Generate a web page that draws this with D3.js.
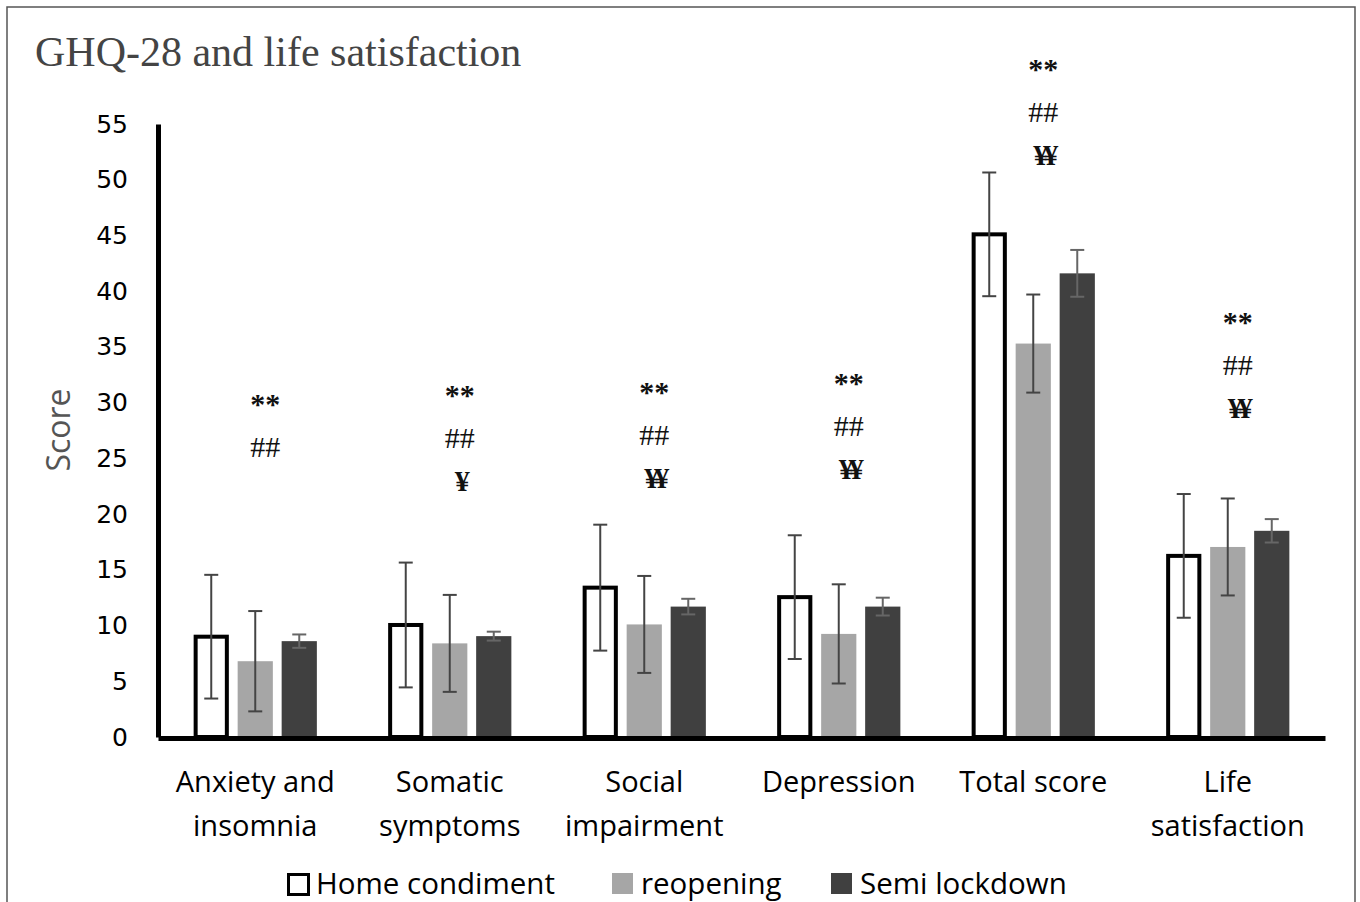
<!DOCTYPE html>
<html>
<head>
<meta charset="utf-8">
<script src="https://cdn.jsdelivr.net/npm/d3@7"></script>
<style>
  body { margin: 0; background: #fff; }
  svg { display: block; }
</style>
</head>
<body>
<div id="chart"></div>
<script>
// data
const categories = [['Anxiety and', 'insomnia'], ['Somatic', 'symptoms'], ['Social', 'impairment'],
    ['Depression'], ['Total score'], ['Life', 'satisfaction']];
const seriesNames = ['Home condiment', 'reopening', 'Semi lockdown'];
const homeMean = [9.0, 10.05, 13.4, 12.55, 45.1, 16.25];
const homeSd = [5.55, 5.6, 5.65, 5.55, 5.55, 5.55];
const reopenMean = [6.8, 8.4, 10.1, 9.25, 35.3, 17.05];
const reopenSd = [4.5, 4.35, 4.35, 4.45, 4.4, 4.35];
const semiMean = [8.6, 9.05, 11.7, 11.7, 41.6, 18.5];
const semiSd = [0.6, 0.4, 0.7, 0.8, 2.1, 1.05];
const sigMarks = [['**', '##'], ['**', '##', '¥'], ['**', '##', '¥¥'], ['**', '##', '¥¥'], ['**', '##', '¥¥'], ['**', '##', '¥¥']];
const sigLevel = [30.1, 30.9, 31.1, 31.9, 60.1, 37.4];
const yTicks = [0, 5, 10, 15, 20, 25, 30, 35, 40, 45, 50, 55];

const width = 1360, height = 902;
const svg = d3.select('#chart').append('svg')
    .attr('width', width)
    .attr('height', height);

svg.append('rect')
    .attr('x', 7).attr('y', 7)
    .attr('width', 1348).attr('height', 905)
    .style('fill', 'none')
    .style('stroke', '#555')
    .style('stroke-width', 1.5);

svg.append('text')
    .attr('x', 35).attr('y', 66)
    .style('font-family', '"Liberation Serif", serif')
    .style('font-size', '42px')
    .style('fill', '#444')
    .text('GHQ-28 and life satisfaction');

const y = d3.scaleLinear().domain([0, 55]).range([737, 124]);
const x0 = d3.scaleBand().domain(d3.range(categories.length))
    .range([158, 1325]).paddingInner(0.276).paddingOuter(0.138);
const x1 = d3.scaleBand().domain(seriesNames)
    .range([0, x0.bandwidth()]).padding(0.2);

const fills = d3.scaleOrdinal().domain(seriesNames).range(['#fff', '#a6a6a6', '#404040']);

const rows = categories.map((c, i) => ({
    i: i,
    vals: [
        { s: seriesNames[0], m: homeMean[i], sd: homeSd[i] },
        { s: seriesNames[1], m: reopenMean[i], sd: reopenSd[i] },
        { s: seriesNames[2], m: semiMean[i], sd: semiSd[i] }
    ]
}));

const groups = svg.append('g').selectAll('.group')
    .data(rows)
    .enter()
    .append('g')
    .classed('group', true)
    .attr('transform', d => `translate(${x0(d.i)},0)`);

groups.selectAll('.bar')
    .data(d => d.vals)
    .enter()
    .append('rect')
    .classed('bar', true)
    .attr('x', d => x1(d.s) + (d.s === seriesNames[0] ? 2 : 0))
    .attr('width', d => x1.bandwidth() - (d.s === seriesNames[0] ? 4 : 0))
    .attr('y', d => y(d.m))
    .attr('height', d => y(0) - y(d.m))
    .style('fill', d => fills(d.s))
    .style('stroke', d => d.s === seriesNames[0] ? '#000' : 'none')
    .style('stroke-width', 4);

const err = groups.selectAll('.err')
    .data(d => d.vals)
    .enter()
    .append('g')
    .classed('err', true)
    .attr('transform', d => `translate(${x1(d.s) + x1.bandwidth() / 2},0)`)
    .style('stroke', d => d.s === seriesNames[2] ? '#666' : '#444')
    .style('stroke-width', 2);
err.append('line')
    .attr('y1', d => y(d.m - d.sd)).attr('y2', d => y(d.m + d.sd));
err.append('line')
    .attr('x1', -7).attr('x2', 7)
    .attr('y1', d => y(d.m + d.sd)).attr('y2', d => y(d.m + d.sd));
err.append('line')
    .attr('x1', -7).attr('x2', 7)
    .attr('y1', d => y(d.m - d.sd)).attr('y2', d => y(d.m - d.sd));

// significance marks
groups.each(function (d) {
    const g = d3.select(this);
    const cx = x1(seriesNames[1]) + x1.bandwidth() / 2 + 10;
    sigMarks[d.i].forEach((m, k) => {
        g.append('text')
            .attr('x', cx)
            .attr('y', y(sigLevel[d.i]) + k * 43 + 12)
            .attr('text-anchor', 'middle')
            .style('font-family', '"Liberation Serif", serif')
            .style('font-weight', m === '##' ? 'normal' : 'bold')
            .style('font-size', m === '**' ? '30px' : '30px')
            .style('letter-spacing', m.indexOf('¥') >= 0 ? '-5px' : '0px')
            .style('fill', '#111')
            .text(m);
    });
});

// axes
const yAxis = svg.append('g')
    .attr('transform', 'translate(158,0)')
    .call(d3.axisLeft(y).tickValues(yTicks).tickSize(0).tickPadding(30).tickSizeOuter(0));
yAxis.select('.domain').style('stroke', '#000').style('stroke-width', 5);
yAxis.selectAll('text')
    .style('font-family', '"DejaVu Sans", sans-serif')
    .style('font-size', '25px')
    .style('fill', '#000');

const xAxis = svg.append('g')
    .attr('transform', 'translate(0,738)')
    .call(d3.axisBottom(x0).tickSize(0).tickSizeOuter(0).tickFormat(''));
xAxis.select('.domain').style('stroke', '#000').style('stroke-width', 5);
xAxis.selectAll('.tick text').remove();
xAxis.selectAll('.tick')
    .append('text')
    .attr('text-anchor', 'middle')
    .style('font-family', '"Open Sans", sans-serif')
    .style('font-size', '29px')
    .style('fill', '#000')
    .selectAll('tspan')
    .data(i => categories[i])
    .enter()
    .append('tspan')
    .attr('x', 0)
    .attr('y', (d, k) => 54 + k * 44)
    .text(d => d);

svg.append('text')
    .attr('transform', 'translate(70,430) rotate(-90)')
    .attr('text-anchor', 'middle')
    .style('font-family', '"Open Sans", sans-serif')
    .style('font-size', '32px')
    .style('fill', '#555')
    .text('Score');

// legend
const legendX = [287, 612, 831];
const legend = svg.append('g').selectAll('.legend')
    .data(seriesNames)
    .enter()
    .append('g')
    .classed('legend', true)
    .attr('transform', (d, i) => `translate(${legendX[i]},873)`);
legend.append('rect')
    .attr('x', (d, i) => i === 0 ? 1.5 : 0)
    .attr('y', (d, i) => i === 0 ? 1.5 : 0)
    .attr('width', (d, i) => i === 0 ? 20 : 21)
    .attr('height', (d, i) => i === 0 ? 20 : 21)
    .style('fill', d => fills(d))
    .style('stroke', (d, i) => i === 0 ? '#000' : 'none')
    .style('stroke-width', 3);
legend.append('text')
    .attr('x', 29)
    .attr('y', 21)
    .style('font-family', '"Open Sans", sans-serif')
    .style('font-size', '29.5px')
    .style('fill', '#000')
    .text(d => d);
</script>
</body>
</html>
